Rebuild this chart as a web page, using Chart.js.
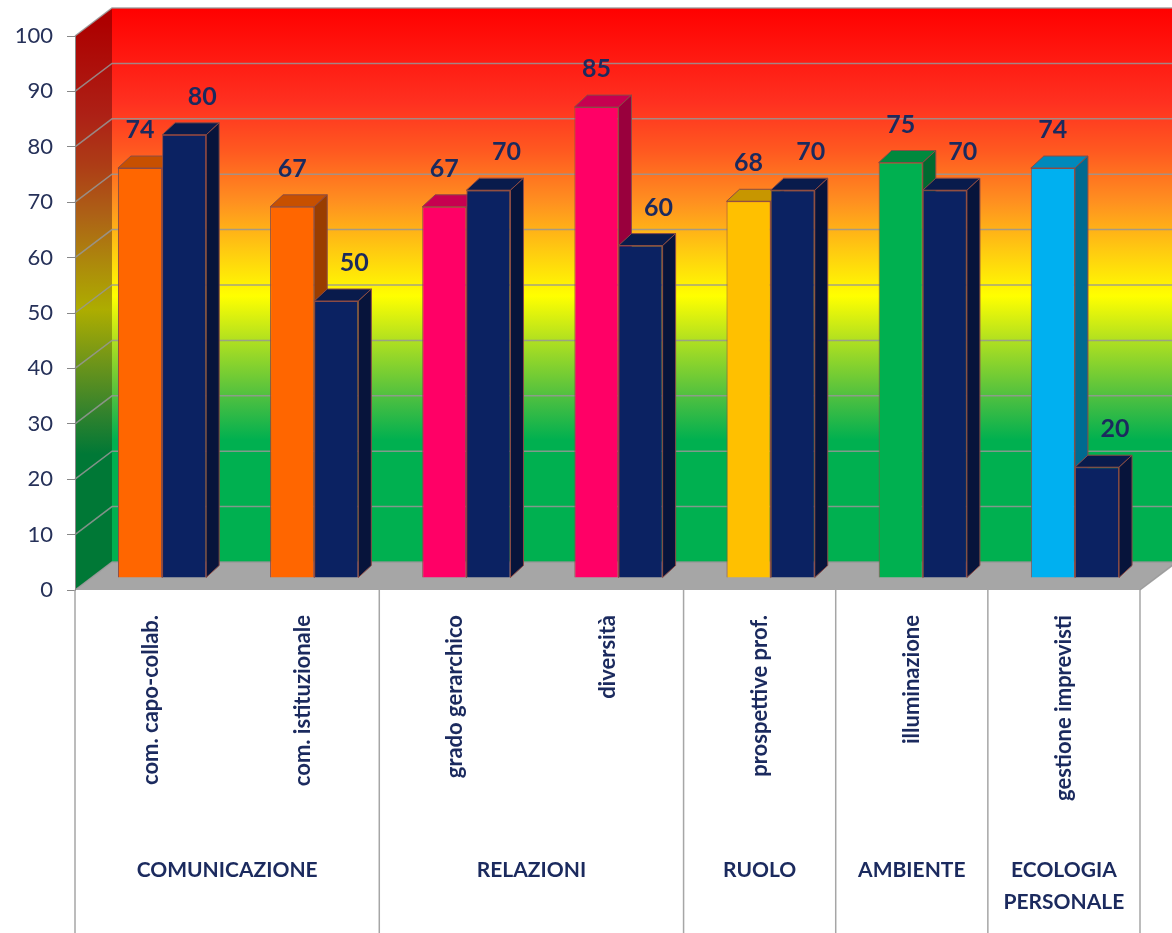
<!DOCTYPE html>
<html>
<head>
<meta charset="utf-8">
<script src="https://cdn.jsdelivr.net/npm/chart.js@4.4.1/dist/chart.umd.min.js"></script>
<style>
html, body { margin: 0; padding: 0; background: #fff; }
</style>
</head>
<body>
<canvas id="chart" width="1172" height="933"></canvas>
<script>
const categories = ["com. capo-collab.", "com. istituzionale", "grado gerarchico", "diversità", "prospettive prof.", "illuminazione", "gestione imprevisti"];
const seriesA = [74, 67, 67, 85, 68, 75, 74];
const seriesB = [80, 50, 70, 60, 70, 70, 20];
const colorsA = ["#FF6600", "#FF6600", "#FF0066", "#FF0066", "#FFC000", "#00B050", "#00B0F0"];
const colorB = "#0B2262";
const groupNames = [["COMUNICAZIONE"], ["RELAZIONI"], ["RUOLO"], ["AMBIENTE"], ["ECOLOGIA", "PERSONALE"]];
const groupSizes = [2, 2, 1, 1, 1];
const yTicks = [0, 10, 20, 30, 40, 50, 60, 70, 80, 90, 100];

// wall colour by value
const wallStops = [[100, "#FF0000"], [83, "#FF3020"], [74, "#FF5A20"], [65, "#FF9020"], [56, "#FFCC10"], [48, "#FFFF00"], [40, "#B0E020"], [30, "#50C040"], [22, "#00B050"], [0, "#00B050"]];

const BACK_X = 37, BACK_Y = -28;   // back wall offset
const BAR_X = 11, BAR_Y = -12;     // bar plane offset
const EXT_X = 13, EXT_Y = 12;      // bar depth
const textColor = "#1B2A5E";
const edgeColor = "#8B4B45";

function shade(c, f) {
  const n = parseInt(c.slice(1), 16);
  const r = Math.round(((n >> 16) & 255) * f);
  const g = Math.round(((n >> 8) & 255) * f);
  const b = Math.round((n & 255) * f);
  return `rgb(${r},${g},${b})`;
}

const scene = {
  id: "scene",
  beforeDraw(chart) {
    const ctx = chart.ctx, a = chart.chartArea, y = chart.scales.y;
    const W = chart.width;
    const top = y.getPixelForValue(100), bot = y.getPixelForValue(0);
    ctx.save();
    // back wall
    let g = ctx.createLinearGradient(0, top + BACK_Y, 0, bot + BACK_Y);
    wallStops.forEach(([v, c]) => g.addColorStop((100 - v) / 100, c));
    ctx.fillStyle = g;
    ctx.fillRect(a.left + BACK_X, top + BACK_Y, W - a.left - BACK_X, bot - top);
    // side wall
    g = ctx.createLinearGradient(0, top + BACK_Y / 2, 0, bot + BACK_Y / 2);
    wallStops.forEach(([v, c]) => g.addColorStop((100 - v) / 100, shade(c, 0.68)));
    ctx.fillStyle = g;
    ctx.beginPath();
    ctx.moveTo(a.left, top);
    ctx.lineTo(a.left + BACK_X, top + BACK_Y);
    ctx.lineTo(a.left + BACK_X, bot + BACK_Y);
    ctx.lineTo(a.left, bot);
    ctx.closePath();
    ctx.fill();
    // floor
    ctx.fillStyle = "#A6A6A6";
    ctx.beginPath();
    ctx.moveTo(a.left, bot);
    ctx.lineTo(a.left + BACK_X, bot + BACK_Y);
    ctx.lineTo(a.right + BACK_X, bot + BACK_Y);
    ctx.lineTo(a.right, bot);
    ctx.closePath();
    ctx.fill();
    // grid lines on the walls
    ctx.strokeStyle = "rgba(150,150,150,0.85)";
    ctx.lineWidth = 1.5;
    yTicks.forEach(v => {
      const py = y.getPixelForValue(v);
      ctx.beginPath();
      ctx.moveTo(a.left, py);
      ctx.lineTo(a.left + BACK_X, py + BACK_Y);
      ctx.lineTo(v === 0 ? a.right + BACK_X : W, py + BACK_Y);
      if (v === 0) ctx.lineTo(a.right, py);
      ctx.stroke();
    });
    ctx.restore();
  },
  afterDraw(chart) {
    const ctx = chart.ctx, a = chart.chartArea, x = chart.scales.x;
    const step = (a.right - a.left) / categories.length;
    ctx.save();
    ctx.strokeStyle = "#A6A6A6";
    ctx.lineWidth = 1.5;
    ctx.fillStyle = textColor;
    ctx.font = "bold 21px Lato";
    ctx.textAlign = "center";
    ctx.textBaseline = "middle";
    let idx = 0;
    const edges = [a.left];
    groupSizes.forEach((n, gi) => {
      const x0 = x.getPixelForValue(idx) - step / 2;
      const x1 = x.getPixelForValue(idx + n - 1) + step / 2;
      edges.push(x1);
      groupNames[gi].forEach((t, li) => ctx.fillText(t, (x0 + x1) / 2, 870 + li * 32));
      idx += n;
    });
    edges.forEach(ex => {
      ctx.beginPath();
      ctx.moveTo(ex, a.bottom);
      ctx.lineTo(ex, chart.height);
      ctx.stroke();
    });
    ctx.restore();
  }
};

const bars3d = {
  id: "bars3d",
  beforeDatasetsDraw(chart) {
    const ctx = chart.ctx;
    ctx.save();
    ctx.translate(BAR_X, BAR_Y);
    ctx.lineWidth = 1;
    ctx.strokeStyle = edgeColor;
    chart.data.datasets.forEach((ds, di) => {
      chart.getDatasetMeta(di).data.forEach((bar, i) => {
        const c = Array.isArray(ds.backgroundColor) ? ds.backgroundColor[i] : ds.backgroundColor;
        const l = bar.x - bar.width / 2, r = bar.x + bar.width / 2, t = bar.y, b = bar.base;
        ctx.fillStyle = shade(c, 0.78);
        ctx.beginPath();
        ctx.moveTo(l, t);
        ctx.lineTo(l + EXT_X, t - EXT_Y);
        ctx.lineTo(r + EXT_X, t - EXT_Y);
        ctx.lineTo(r, t);
        ctx.closePath();
        ctx.fill();
        ctx.stroke();
        ctx.fillStyle = shade(c, 0.6);
        ctx.beginPath();
        ctx.moveTo(r, t);
        ctx.lineTo(r + EXT_X, t - EXT_Y);
        ctx.lineTo(r + EXT_X, b - EXT_Y);
        ctx.lineTo(r, b);
        ctx.closePath();
        ctx.fill();
        ctx.stroke();
      });
    });
  },
  afterDatasetsDraw(chart) {
    const ctx = chart.ctx;
    ctx.restore();
    ctx.save();
    ctx.fillStyle = textColor;
    ctx.font = "bold 25px Lato";
    ctx.textAlign = "center";
    ctx.textBaseline = "middle";
    chart.data.datasets.forEach((ds, di) => {
      chart.getDatasetMeta(di).data.forEach((bar, i) => {
        const nudge = di === 0 ? 0 : 18;
        ctx.fillText(ds.data[i], bar.x + BAR_X + nudge, bar.y + BAR_Y - 38);
      });
    });
    ctx.restore();
  }
};

new Chart(document.getElementById("chart"), {
  type: "bar",
  data: {
    labels: categories,
    datasets: [
      { data: seriesA, backgroundColor: colorsA, borderColor: edgeColor, borderWidth: 1 },
      { data: seriesB, backgroundColor: colorB, borderColor: edgeColor, borderWidth: 1 }
    ]
  },
  options: {
    responsive: false,
    animation: false,
    devicePixelRatio: 1,
    categoryPercentage: 0.58,
    barPercentage: 1,
    layout: { padding: { top: 36, right: 32, left: 0, bottom: 0 } },
    plugins: { legend: { display: false }, tooltip: { enabled: false } },
    scales: {
      x: {
        grid: { display: false, drawTicks: false },
        border: { display: false },
        ticks: {
          autoSkip: false, minRotation: 90, maxRotation: 90, padding: 25,
          color: textColor, font: { family: "Lato", size: 22, weight: "bold" }
        },
        afterFit: s => { s.height = 343; }
      },
      y: {
        min: 0, max: 100,
        afterBuildTicks: s => { s.ticks = yTicks.map(v => ({ value: v })); },
        grid: { drawOnChartArea: false, tickLength: 8, color: "#888" },
        border: { display: true, color: "#888" },
        ticks: { padding: 14, color: "#263159", font: { family: "Lato", size: 22 } },
        afterFit: s => { s.width = 75; }
      }
    }
  },
  plugins: [scene, bars3d]
});
</script>
</body>
</html>
